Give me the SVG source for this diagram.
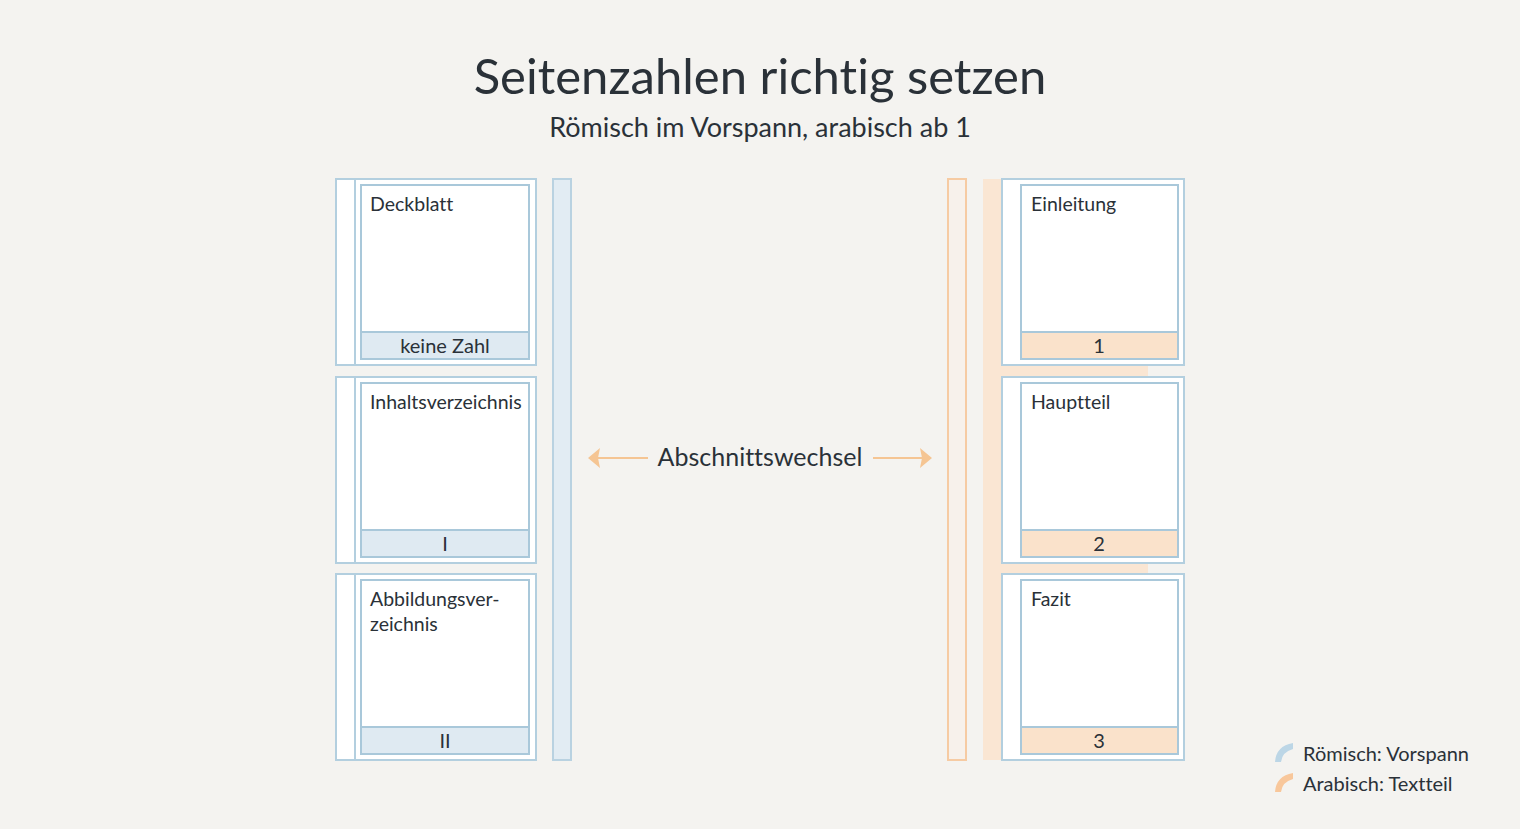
<svg xmlns="http://www.w3.org/2000/svg" width="1520" height="829" viewBox="0 0 1520 829">
<style>
.t{font-family:Lato,"Noto Sans","Liberation Sans",sans-serif;fill:#2a3138;font-variant-ligatures:none;font-feature-settings:"liga" 0}
.outer{fill:#ffffff;stroke:#b3cfdf;stroke-width:2}
.page{fill:#ffffff;stroke:#a9c8da;stroke-width:2}
.fb{fill:#dfeaf2;stroke:#a9c8da;stroke-width:2}
.fo{fill:#fae2cb;stroke:#a9c8da;stroke-width:2}
.lbl{font-size:19.5px}
.num{font-size:20px;text-anchor:middle}
.arr{stroke:#f5c593;stroke-width:2;fill:none}
</style>
<rect width="1520" height="829" fill="#f4f3f0"/>
<text class="t" x="760" y="94" font-size="49" text-anchor="middle">Seitenzahlen richtig setzen</text>
<text class="t" x="760" y="137" font-size="27" text-anchor="middle" fill="#3a4148">Römisch im Vorspann, arabisch ab 1</text>

<g id="bars">
<rect x="553" y="179" width="18" height="581" fill="#e2ecf3" stroke="#b9d2e1" stroke-width="2"/>
<rect x="948" y="179" width="18" height="581" fill="#f7f1eb" stroke="#f6cba3" stroke-width="2"/>
<rect x="983" y="179" width="19" height="581" fill="#fae6d3"/>
<rect x="983" y="365" width="165" height="12" fill="#fae6d3"/>
<rect x="983" y="563" width="165" height="11" fill="#fae6d3"/>
</g>

<g id="n-deckblatt">
<rect class="outer" x="336" y="179" width="200" height="186"/>
<line x1="355" y1="179" x2="355" y2="365" stroke="#b3cfdf" stroke-width="2"/>
<rect class="page" x="361" y="185" width="168" height="174"/>
<rect class="fb" x="361" y="332" width="168" height="27"/>
<text class="t lbl" x="370" y="211">Deckblatt</text>
<text class="t num" x="445" y="353">keine Zahl</text>
</g>
<g id="n-inhalt">
<rect class="outer" x="336" y="377" width="200" height="186"/>
<line x1="355" y1="377" x2="355" y2="563" stroke="#b3cfdf" stroke-width="2"/>
<rect class="page" x="361" y="383" width="168" height="174"/>
<rect class="fb" x="361" y="530" width="168" height="27"/>
<text class="t lbl" x="370" y="409">Inhaltsverzeichnis</text>
<text class="t num" x="445" y="551">I</text>
</g>
<g id="n-abb">
<rect class="outer" x="336" y="574" width="200" height="186"/>
<line x1="355" y1="574" x2="355" y2="760" stroke="#b3cfdf" stroke-width="2"/>
<rect class="page" x="361" y="580" width="168" height="174"/>
<rect class="fb" x="361" y="727" width="168" height="27"/>
<text class="t lbl" x="370" y="606">Abbildungsver-</text>
<text class="t lbl" x="370" y="631">zeichnis</text>
<text class="t num" x="445" y="748">II</text>
</g>

<g id="n-einleitung">
<rect class="outer" x="1002" y="179" width="182" height="186"/>
<rect class="page" x="1021" y="185" width="157" height="174"/>
<rect class="fo" x="1021" y="332" width="157" height="27"/>
<text class="t lbl" x="1031" y="211">Einleitung</text>
<text class="t num" x="1099" y="353">1</text>
</g>
<g id="n-hauptteil">
<rect class="outer" x="1002" y="377" width="182" height="186"/>
<rect class="page" x="1021" y="383" width="157" height="174"/>
<rect class="fo" x="1021" y="530" width="157" height="27"/>
<text class="t lbl" x="1031" y="409">Hauptteil</text>
<text class="t num" x="1099" y="551">2</text>
</g>
<g id="n-fazit">
<rect class="outer" x="1002" y="574" width="182" height="186"/>
<rect class="page" x="1021" y="580" width="157" height="174"/>
<rect class="fo" x="1021" y="727" width="157" height="27"/>
<text class="t lbl" x="1031" y="606">Fazit</text>
<text class="t num" x="1099" y="748">3</text>
</g>

<g id="connectors">
<line class="arr" x1="594" y1="458" x2="648" y2="458"/>
<path d="M588,458 L600,448 L598,458 L600,468 Z" fill="#f5c593"/>
<line class="arr" x1="873" y1="458" x2="926" y2="458"/>
<path d="M932,458 L920,448 L922,458 L920,468 Z" fill="#f5c593"/>
<text class="t" x="760" y="466" font-size="25" text-anchor="middle">Abschnittswechsel</text>
</g>

<g id="legend">
<path d="M1275,762 Q1276,746 1293,743 L1293,749 Q1282,752 1281,762 Z" fill="#bcd6e6"/>
<text class="t" x="1303" y="761" font-size="20">Römisch: Vorspann</text>
<path d="M1275,792 Q1276,776 1293,773 L1293,779 Q1282,782 1281,792 Z" fill="#f8c79b"/>
<text class="t" x="1303" y="791" font-size="20">Arabisch: Textteil</text>
</g>
</svg>
